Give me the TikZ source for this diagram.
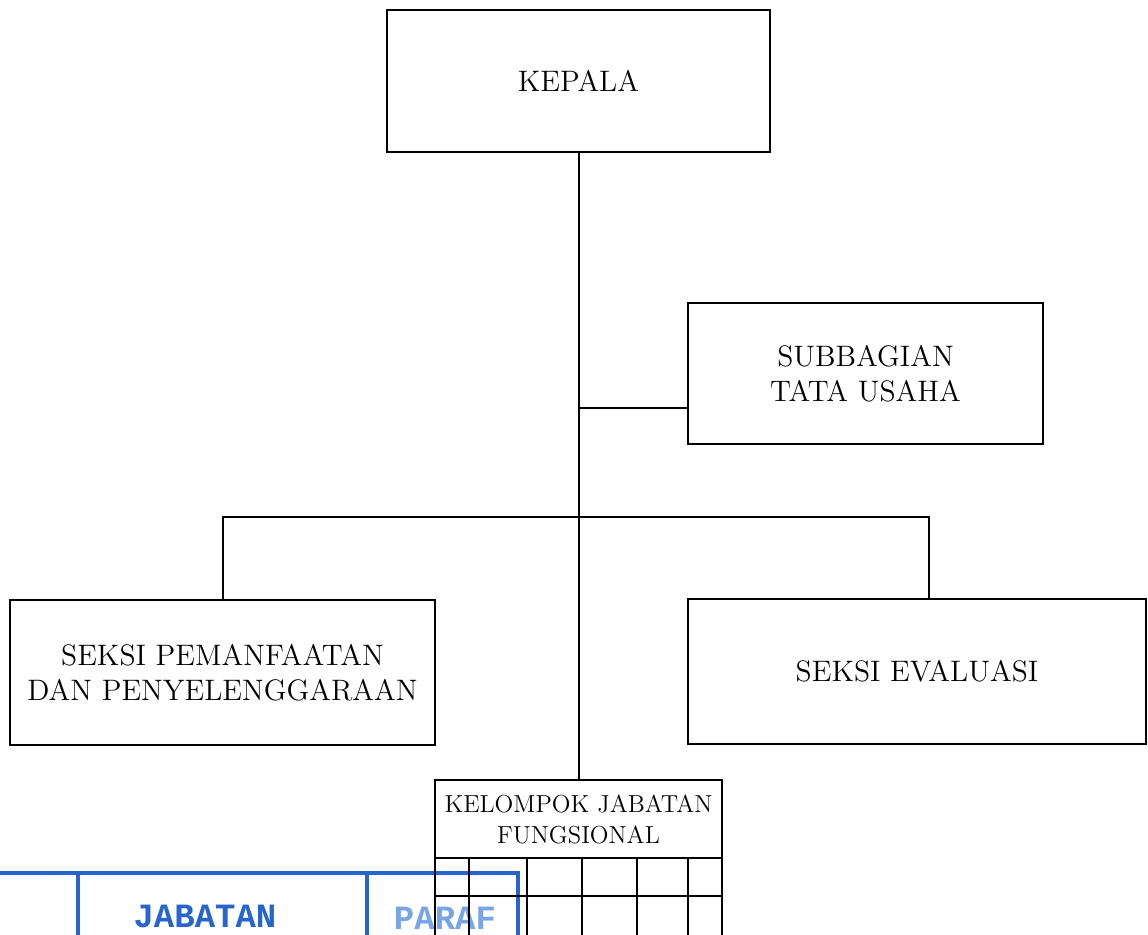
\documentclass[tikz,border=0pt]{standalone}
\usepackage{fontspec}
\newfontfamily\stampfont{Liberation Mono}
\definecolor{stampblue}{RGB}{40,100,205}
\definecolor{stamplight}{RGB}{120,165,230}

\begin{document}
\begin{tikzpicture}[x=0.5pt,y=-0.5pt,
  unit/.style={draw,line width=1pt,align=center,inner sep=0pt,
    font=\fontsize{14.8}{17.5}\selectfont},
  link/.style={line width=1pt},
  stamp/.style={stampblue,line width=1.6pt},
  stamptext/.style={font=\stampfont\bfseries\fontsize{17}{19}\selectfont}]
  \clip (0,0) rectangle (1148,934);
  % units of the office
  \node[unit,minimum width=191.5pt,minimum height=71pt] (kepala) at (578.5,81) {KEPALA};
  \node[unit,minimum width=177.5pt,minimum height=70.5pt] (tu) at (865.5,373.5) {SUBBAGIAN\\TATA USAHA};
  \node[unit,minimum width=212.5pt,minimum height=72.5pt] (pemanfaatan) at (222.5,672.5) {SEKSI PEMANFAATAN\\DAN PENYELENGGARAAN};
  \node[unit,minimum width=229pt,minimum height=72.5pt] (evaluasi) at (917,671.5) {SEKSI EVALUASI};
  \node[unit,minimum width=143.5pt,minimum height=39pt,
    font=\fontsize{12.3}{15.5}\selectfont] (kjf) at (578.5,819) {KELOMPOK JABATAN\\FUNGSIONAL};
  % lines between units
  \coordinate (tujoint) at (578.5,408);
  \coordinate (bus) at (578.5,517);
  \coordinate (busright) at (929,517);
  \draw[link] (kepala.south) -- (kjf.north);
  \draw[link] (tujoint) -- (tujoint -| tu.west);
  \draw[link] (pemanfaatan.north) |- (bus) -- (busright) -- (busright |- evaluasi.north);
  % stamp
  \draw[stamp] (-5,873) -- (518,873) -- (518,940);
  \draw[stamp] (78,873) -- (78,940);
  \draw[stamp] (367,873) -- (367,940);
  \node[stamptext,text=stampblue] (jabatan) at (205,916) {JABATAN};
  \node[stamptext,text=stamplight] (paraf) at (445,918) {PARAF};
  % grid below the functional group
  \foreach \gx in {435,469,527,582,637,688,722}
    \draw[link] (\gx,858) -- (\gx,940);
  \draw[link] (435,896) -- (722,896);
\end{tikzpicture}
\end{document}
